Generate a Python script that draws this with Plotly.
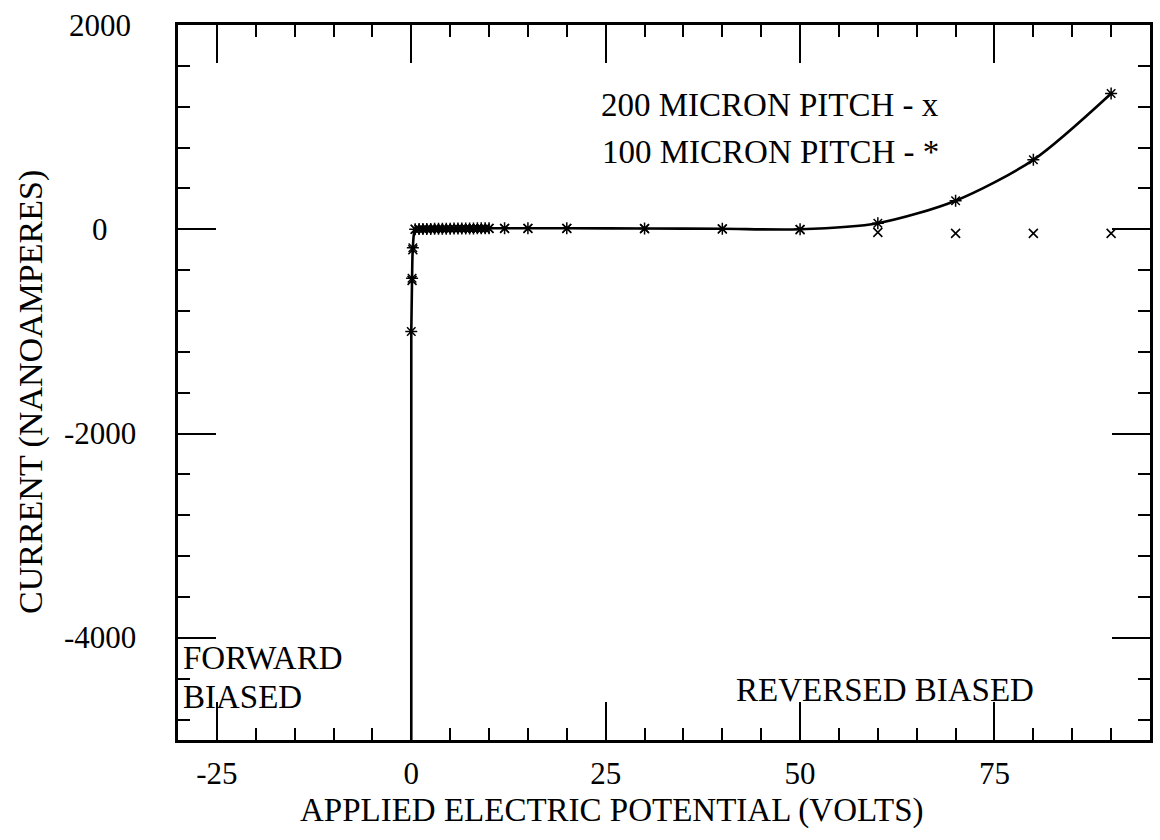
import plotly.graph_objects as go

# Applied potential (V) and measured leakage current (nA)
volts_100 = [0, 0, 0.1, 0.2, 0.5, 1, 1.5, 2, 2.5, 3, 3.5, 4, 4.5, 5, 5.5, 6, 6.5, 7,
             7.5, 8, 8.5, 9, 9.5, 10, 12, 15, 20, 30, 40, 50, 60, 70, 80, 90]
current_100 = [-6000, -1000, -480, -180, 0, 2, 3, 4, 4, 5, 5, 6, 6, 6, 7, 7, 7, 8,
               8, 8, 9, 9, 9, 10, 10, 10, 10, 8, 5, 0, 60, 280, 680, 1330]

volts_200 = [0.1, 0.2, 0.5, 1, 1.5, 2, 2.5, 3, 3.5, 4, 4.5, 5, 5.5, 6, 6.5, 7,
             7.5, 8, 8.5, 9, 9.5, 10, 12, 15, 20, 30, 40, 50, 60, 70, 80, 90]
current_200 = [-500, -200, 0, 1, 2, 3, 3, 4, 4, 4, 5, 5, 5, 6, 6, 6,
               6, 7, 7, 7, 7, 8, 8, 8, 8, 6, 3, -5, -30, -40, -40, -40]

x_ticks = [-25, 0, 25, 50, 75]
y_ticks = [2000, 0, -2000, -4000]

FONT = "Liberation Serif"

fig = go.Figure()

# 100 micron pitch: smooth curve with asterisk markers
fig.add_trace(go.Scatter(
    x=volts_100, y=current_100, mode="lines+markers",
    line=dict(color="black", width=2.6, shape="spline", smoothing=0.8),
    marker=dict(symbol="asterisk-open", size=10, color="black",
                line=dict(color="black", width=1.5)),
    showlegend=False,
))

# 200 micron pitch: x markers only
fig.add_trace(go.Scatter(
    x=volts_200, y=current_200, mode="markers",
    marker=dict(symbol="x-thin-open", size=9, color="black",
                line=dict(color="black", width=1.6)),
    showlegend=False,
))

fig.update_xaxes(
    range=[-30, 95], tickvals=x_ticks, ticktext=[str(v) for v in x_ticks],
    ticks="inside", ticklen=38, tickwidth=2.2, tickcolor="black",
    minor=dict(dtick=5, tick0=0, ticks="inside", ticklen=12, tickwidth=2.2,
               tickcolor="black"),
    showline=True, linecolor="black", linewidth=3, mirror="allticks",
    showgrid=False, zeroline=False,
    tickfont=dict(family=FONT, size=31, color="black"),
    ticklabelstandoff=4,
)
fig.update_yaxes(
    range=[-5000, 2000], tickvals=y_ticks, showticklabels=False,
    ticks="inside", ticklen=38, tickwidth=2.2, tickcolor="black",
    minor=dict(dtick=400, tick0=0, ticks="inside", ticklen=12, tickwidth=2.2,
               tickcolor="black"),
    showline=True, linecolor="black", linewidth=3, mirror="allticks",
    showgrid=False, zeroline=False,
)

annotations = []
# y tick labels, centred in the left margin
for v in y_ticks:
    annotations.append(dict(
        x=-0.08, xref="paper", y=v, yref="y", text=str(v), showarrow=False,
        xanchor="center", yanchor="middle",
        font=dict(family=FONT, size=31, color="black"),
    ))

text_items = [
    ("200 MICRON PITCH - x", 0.433, 0.888, "left"),
    ("100 MICRON PITCH - *", 0.434, 0.822, "left"),
    ("FORWARD", 0.003, 0.115, "left"),
    ("BIASED", 0.003, 0.060, "left"),
    ("REVERSED BIASED", 0.572, 0.070, "left"),
]
for txt, x, y, anchor in text_items:
    annotations.append(dict(
        x=x, y=y, xref="paper", yref="paper", text=txt, showarrow=False,
        xanchor=anchor, yanchor="middle",
        font=dict(family=FONT, size=33, color="black"),
    ))

# axis titles
annotations.append(dict(
    x=0.447, y=-0.098, xref="paper", yref="paper",
    text="APPLIED ELECTRIC POTENTIAL (VOLTS)", showarrow=False,
    xanchor="center", yanchor="middle",
    font=dict(family=FONT, size=33, color="black"),
))
annotations.append(dict(
    x=-0.151, y=0.487, xref="paper", yref="paper",
    text="CURRENT (NANOAMPERES)", showarrow=False, textangle=-90,
    xanchor="center", yanchor="middle",
    font=dict(family=FONT, size=34, color="black"),
))

fig.update_layout(
    width=1160, height=840,
    margin=dict(l=178, r=7, t=25, b=100),
    paper_bgcolor="white", plot_bgcolor="white",
    font=dict(family=FONT, color="black"),
    annotations=annotations,
)

fig.write_html("out.html")
